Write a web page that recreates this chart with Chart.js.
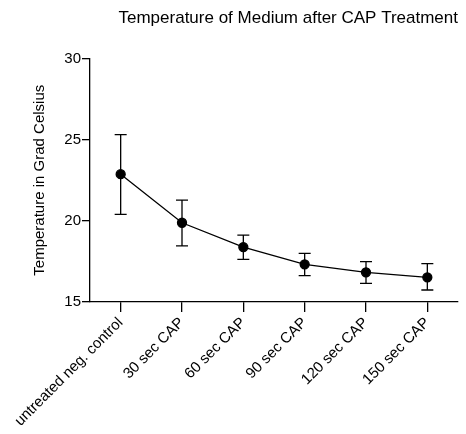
<!DOCTYPE html>
<html>
<head>
<meta charset="utf-8">
<script src="https://cdn.jsdelivr.net/npm/chart.js@4"></script>
<style>
  html, body { margin: 0; padding: 0; background: #fff; }
  #wrap { width: 466px; height: 434px; }
</style>
</head>
<body>
<div id="wrap"><canvas id="plot" width="466" height="434"></canvas></div>
<script>
// data
const groups = ["untreated neg. control", "30 sec CAP", "60 sec CAP", "90 sec CAP", "120 sec CAP", "150 sec CAP"];
const meanTemp = [22.87, 19.88, 18.38, 17.32, 16.83, 16.52];
const errUpper = [25.31, 21.27, 19.12, 17.99, 17.48, 17.36];
const errLower = [20.39, 18.45, 17.63, 16.62, 16.15, 15.74];
const yTicks = [15, 20, 25, 30];

const fontFam = "'Liberation Sans', Arial, Helvetica, sans-serif";

// draws the error bars with the chart's own scales
const errorBars = {
  id: "errorBars",
  afterDatasetsDraw(chart) {
    const ctx = chart.ctx;
    const xs = chart.scales.x;
    const ys = chart.scales.y;
    ctx.save();
    ctx.strokeStyle = "#000";
    ctx.lineWidth = 1.3;
    groups.forEach((g, i) => {
      const x = xs.getPixelForValue(i);
      const top = ys.getPixelForValue(errUpper[i]);
      const bot = ys.getPixelForValue(errLower[i]);
      ctx.beginPath();
      ctx.moveTo(x, top); ctx.lineTo(x, bot);
      ctx.moveTo(x - 6, top); ctx.lineTo(x + 6, top);
      ctx.moveTo(x - 6, bot); ctx.lineTo(x + 6, bot);
      ctx.stroke();
    });
    ctx.restore();
  }
};

const ctx = document.getElementById("plot").getContext("2d");
new Chart(ctx, {
  type: "line",
  data: {
    labels: groups,
    datasets: [{
      data: meanTemp,
      borderColor: "#000",
      backgroundColor: "#000",
      borderWidth: 1.3,
      pointRadius: 4.5,
      pointBackgroundColor: "#000",
      tension: 0
    }]
  },
  plugins: [errorBars],
  options: {
    responsive: false,
    animation: false,
    layout: { padding: { left: 31, right: 8, top: 0, bottom: 0 } },
    plugins: {
      legend: { display: false },
      tooltip: { enabled: false },
      title: {
        display: true,
        text: "Temperature of Medium after CAP Treatment",
        color: "#000",
        align: "end",
        font: { family: fontFam, size: 17, weight: "normal" },
        padding: { top: 8, bottom: 30 }
      }
    },
    scales: {
      x: {
        offset: true,
        grid: { drawOnChartArea: false, drawTicks: true, tickLength: 10, color: "#000", lineWidth: 1.3, offset: false },
        border: { color: "#000", width: 1.3 },
        ticks: {
          color: "#000",
          minRotation: 45,
          maxRotation: 45,
          padding: 2,
          font: { family: fontFam, size: 15 }
        },
        afterFit(scale) { scale.height = 132; }
      },
      y: {
        min: 15,
        max: 30,
        afterBuildTicks(scale) { scale.ticks = yTicks.map(v => ({ value: v })); },
        grid: { drawOnChartArea: false, drawTicks: true, tickLength: 8, color: "#000", lineWidth: 1.3 },
        border: { color: "#000", width: 1.3 },
        ticks: {
          color: "#000",
          padding: 1,
          font: { family: fontFam, size: 15 }
        },
        title: {
          display: true,
          text: "Temperature in Grad Celsius",
          color: "#000",
          font: { family: fontFam, size: 15 },
          padding: { top: 0, bottom: 0 }
        },
        afterFit(scale) { scale.width = 59; }
      }
    }
  }
});
</script>
</body>
</html>
